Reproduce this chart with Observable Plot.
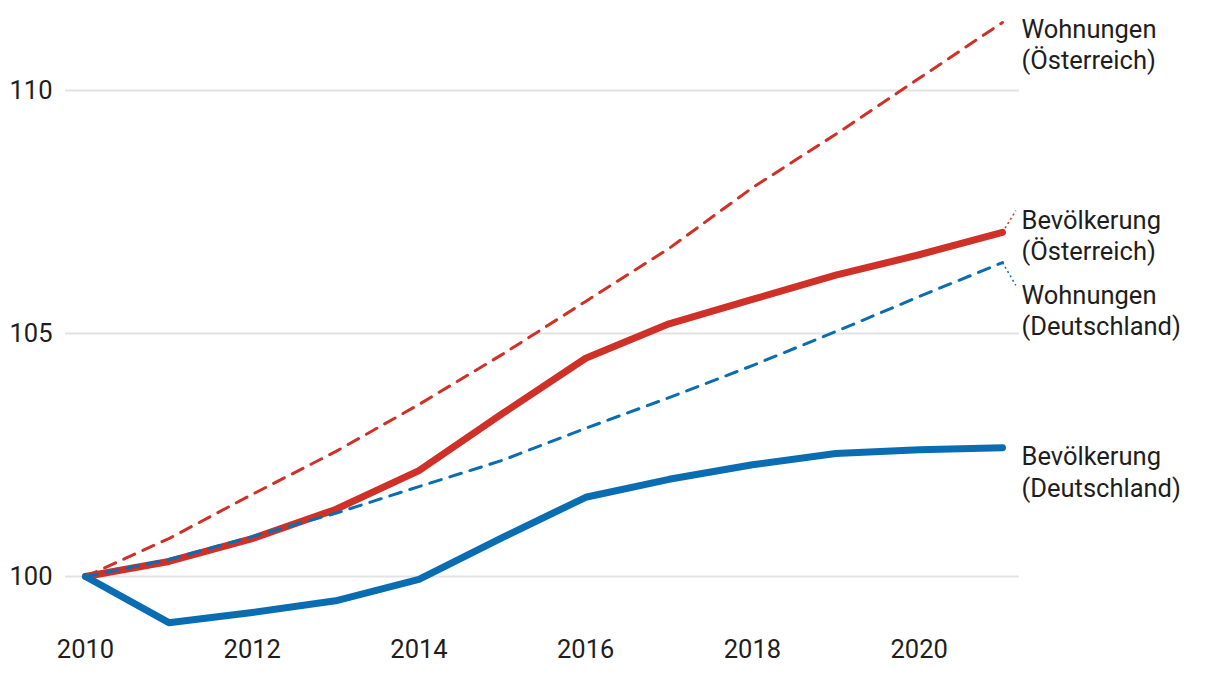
<!DOCTYPE html>
<html>
<head>
<meta charset="utf-8">
<script src="https://cdn.jsdelivr.net/npm/d3@7"></script>
<script src="https://cdn.jsdelivr.net/npm/@observablehq/plot@0.6"></script>
<style>
  html, body { margin: 0; padding: 0; background: #fff; }
  #chart { width: 1220px; height: 676px; }
  svg { font-family: Roboto, "DejaVu Sans", sans-serif; }
</style>
</head>
<body>
<div id="chart"></div>
<script>
const years = [2010, 2011, 2012, 2013, 2014, 2015, 2016, 2017, 2018, 2019, 2020, 2021];
const bevAT  = [100, 100.31, 100.78, 101.38, 102.18, 103.35, 104.49, 105.20, 105.70, 106.20, 106.62, 107.08];
const bevDE  = [100, 99.05, 99.26, 99.50, 99.94, 100.80, 101.63, 102.00, 102.30, 102.53, 102.61, 102.65];
const wohnAT = [100, 100.78, 101.69, 102.57, 103.54, 104.57, 105.66, 106.75, 108.00, 109.10, 110.25, 111.40];
const wohnDE = [100, 100.35, 100.82, 101.30, 101.85, 102.39, 103.05, 103.68, 104.34, 105.04, 105.76, 106.46];
const yTicks = [100, 105, 110];
const xTicks = [2010, 2012, 2014, 2016, 2018, 2020];
const seriesNames = ["Wohnungen\n(Österreich)", "Bevölkerung\n(Österreich)", "Wohnungen\n(Deutschland)", "Bevölkerung\n(Deutschland)"];

const RED = "#cf3027";
const BLUE = "#0a6db2";

const toRows = (vals) => years.map((y, i) => ({year: y, value: vals[i]}));
const last = (vals) => ({year: years[years.length - 1], value: vals[vals.length - 1]});

const font = 25.5;
const labelOpts = {x: "year", y: "value", textAnchor: "start", lineAnchor: "middle", lineHeight: 1.24, dx: 19, fontSize: font, fill: "#1e1e1e"};

const chart = Plot.plot({
  width: 1220,
  height: 676,
  marginLeft: 65,
  marginRight: 201,
  marginTop: 10,
  marginBottom: 40,
  style: {fontFamily: "Roboto, sans-serif", fontSize: font + "px", color: "#1e1e1e", background: "#fff"},
  x: {domain: [2010, 2021], insetLeft: 20, insetRight: 17},
  y: {domain: [100, 110], range: [576, 90]},
  marks: [
    Plot.axisY({ticks: yTicks, tickSize: 0, tickPadding: 13, label: null, fontSize: font, grid: false}),
    Plot.gridY(yTicks, {stroke: "#e3e3e3", strokeOpacity: 1, strokeWidth: 2}),
    Plot.axisX({ticks: xTicks, tickFormat: "d", tickSize: 0, tickPadding: 3, label: null, fontSize: font}),
    Plot.line(toRows(bevAT), {x: "year", y: "value", stroke: RED, strokeWidth: 7, strokeLinecap: "round", strokeLinejoin: "round"}),
    Plot.line(toRows(bevDE), {x: "year", y: "value", stroke: BLUE, strokeWidth: 7, strokeLinecap: "round", strokeLinejoin: "round"}),
    Plot.line(toRows(wohnAT), {x: "year", y: "value", stroke: RED, strokeWidth: 3, strokeDasharray: "12,9"}),
    Plot.line(toRows(wohnDE), {x: "year", y: "value", stroke: BLUE, strokeWidth: 3, strokeDasharray: "12,9"}),
    Plot.link([last(bevAT)], {x1: "year", y1: "value", x2: d => d.year + 0.16, y2: 107.53, stroke: RED, strokeWidth: 1.5, strokeDasharray: "2,3"}),
    Plot.link([last(wohnDE)], {x1: "year", y1: "value", x2: d => d.year + 0.16, y2: 105.99, stroke: BLUE, strokeWidth: 1.5, strokeDasharray: "2,3"}),
    Plot.text([last(wohnAT)], {...labelOpts, text: () => seriesNames[0], dy: 21}),
    Plot.text([last(bevAT)], {...labelOpts, text: () => seriesNames[1], dy: 2}),
    Plot.text([last(wohnDE)], {...labelOpts, text: () => seriesNames[2], dy: 47}),
    Plot.text([last(bevDE)], {...labelOpts, text: () => seriesNames[3], dy: 23})
  ]
});
document.getElementById("chart").appendChild(chart);
</script>
</body>
</html>
